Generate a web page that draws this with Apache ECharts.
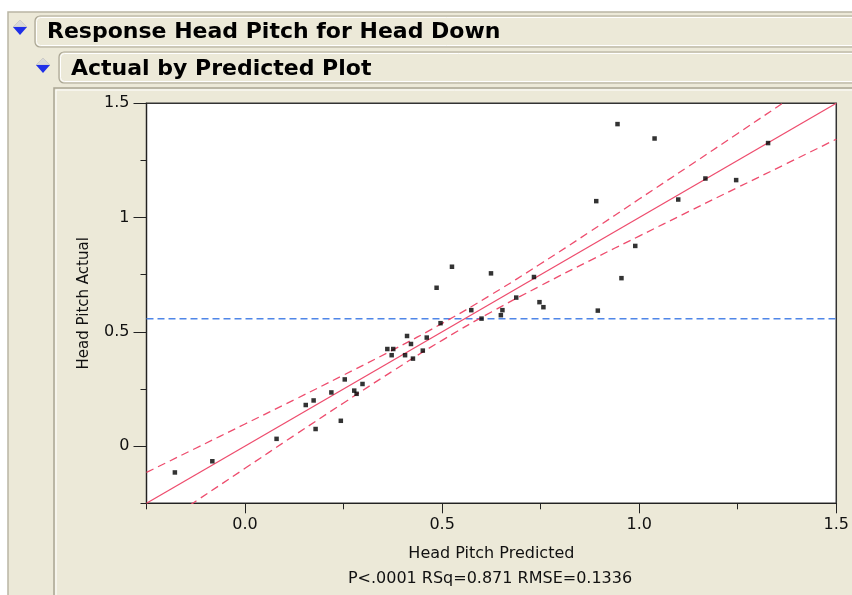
<!DOCTYPE html>
<html>
<head>
<meta charset="utf-8">
<script src="https://cdn.jsdelivr.net/npm/echarts@6/dist/echarts.min.js"></script>
<style>
html,body{margin:0;padding:0;background:#ffffff;}
#c{width:852px;height:595px;}
</style>
</head>
<body>
<div id="c"></div>
<script>
// ---- data ----
var predicted = [-0.178,-0.083,0.080,0.154,0.174,0.179,0.219,0.243,0.253,0.277,0.283,0.298,0.361,0.376,0.372,0.406,0.411,0.421,0.426,0.451,0.461,0.525,0.486,0.496,0.574,0.600,0.624,0.649,0.653,0.688,0.733,0.747,0.757,0.895,0.891,0.945,0.955,0.990,1.039,1.099,1.168,1.246,1.327];
var actual    = [-0.115,-0.066,0.032,0.180,0.200,0.075,0.235,0.111,0.292,0.243,0.229,0.272,0.425,0.425,0.398,0.398,0.482,0.447,0.383,0.418,0.475,0.785,0.693,0.538,0.595,0.558,0.756,0.573,0.595,0.650,0.740,0.630,0.608,0.593,1.072,1.409,0.735,0.876,1.346,1.079,1.171,1.164,1.326];
var fitX = [-0.25, 1.5];
var fitY = [-0.25, 1.5];
var confX     = [-0.25,-0.125,0,0.125,0.25,0.375,0.5,0.625,0.75,0.875,1,1.125,1.25,1.375,1.5];
var confUpper = [-0.115,-0.009,0.097,0.203,0.311,0.421,0.537,0.663,0.798,0.938,1.081,1.224,1.368,1.513,1.657];
var confLower = [-0.385,-0.241,-0.097,0.047,0.189,0.329,0.463,0.587,0.702,0.812,0.919,1.026,1.132,1.237,1.343];
var meanX = [-0.25, 1.5];
var meanY = [0.557, 0.557];
var majorTicks = [0, 0.5, 1, 1.5];
var minorTicks = [-0.25, 0.25, 0.75, 1.25];
var titleMain = 'Response Head Pitch for Head Down';
var titleSub = 'Actual by Predicted Plot';
var xName = 'Head Pitch Predicted';
var yName = 'Head Pitch Actual';
var statText = 'P<.0001 RSq=0.871 RMSE=0.1336';

function zip(a, b){ return a.map(function(v,i){ return [v, b[i]]; }); }

var FONT = 'DejaVu Sans';
var RED = '#EE4D6E';
var BEIGE = '#ECE9D8';
var EDGE = '#A9A593';

var chart = echarts.init(document.getElementById('c'), null, {renderer:'canvas'});

var axisCommon = {
  type: 'value', min: -0.25, max: 1.5,
  splitLine: {show:false},
  axisLine: {show:true, onZero:false, lineStyle:{color:'#222', width:1}}
};

var option = {
  animation: false,
  backgroundColor: 'transparent',
  grid: {left:146.5, top:103.3, width:690, height:400, show:true, backgroundColor:'#ffffff', borderColor:'#333', borderWidth:1.5},
  xAxis: [
    Object.assign({}, axisCommon, {
      position:'bottom',
      axisTick:{show:true, length:10, lineStyle:{color:'#222'}, customValues: majorTicks},
      axisLabel:{show:true, margin:14, fontFamily:FONT, fontSize:16, color:'#111', customValues: majorTicks,
        formatter:function(v){ return v.toFixed(1); }},
      name: xName, nameLocation:'middle', nameGap:43,
      nameTextStyle:{fontFamily:FONT, fontSize:16, color:'#111'}
    }),
    Object.assign({}, axisCommon, {
      position:'bottom',
      axisTick:{show:true, length:6, lineStyle:{color:'#222'}, customValues: minorTicks},
      axisLabel:{show:false}
    })
  ],
  yAxis: [
    Object.assign({}, axisCommon, {
      position:'left',
      axisTick:{show:true, length:13, lineStyle:{color:'#222'}, customValues: majorTicks},
      axisLabel:{show:true, margin:17, fontFamily:FONT, fontSize:16, color:'#111', customValues: majorTicks},
      name: yName, nameLocation:'middle', nameGap:55,
      nameTextStyle:{fontFamily:FONT, fontSize:15, color:'#111'}
    }),
    Object.assign({}, axisCommon, {
      position:'left',
      axisTick:{show:true, length:6, lineStyle:{color:'#222'}, customValues: minorTicks},
      axisLabel:{show:false}
    })
  ],
  series: [
    {type:'line', data: zip(meanX, meanY), symbol:'none', lineStyle:{color:'#4F86E8', width:1.5, type:[7,4]}, z:2},
    {type:'line', data: zip(confX, confUpper), smooth:true, symbol:'none', lineStyle:{color:RED, width:1.3, type:[8,5]}, z:3},
    {type:'line', data: zip(confX, confLower), smooth:true, symbol:'none', lineStyle:{color:RED, width:1.3, type:[8,5]}, z:3},
    {type:'line', data: zip(fitX, fitY), symbol:'none', lineStyle:{color:RED, width:1.3}, z:3},
    {type:'scatter', data: zip(predicted, actual), symbol:'rect', symbolSize:4.5, itemStyle:{color:'#000'}, z:5}
  ],
  graphic: [
    {type:'rect', shape:{x:8, y:12, width:900, height:600}, style:{fill:BEIGE, stroke:'#B9B5A4', lineWidth:1.5}, z:-10},
    {type:'rect', shape:{x:35, y:16, width:900, height:31, r:5}, style:{fill:BEIGE, stroke:EDGE, lineWidth:1.2}, z:-9},
    {type:'rect', shape:{x:36.5, y:17.5, width:900, height:28, r:4}, style:{fill:'none', stroke:'#ffffff', lineWidth:1}, z:-9},
    {type:'rect', shape:{x:59, y:52, width:900, height:31, r:5}, style:{fill:BEIGE, stroke:EDGE, lineWidth:1.2}, z:-9},
    {type:'rect', shape:{x:60.5, y:53.5, width:900, height:28, r:4}, style:{fill:'none', stroke:'#ffffff', lineWidth:1}, z:-9},
    {type:'rect', shape:{x:54, y:88, width:900, height:600}, style:{fill:BEIGE, stroke:EDGE, lineWidth:1.5}, z:-9},
    {type:'rect', shape:{x:56, y:90, width:900, height:600}, style:{fill:'none', stroke:'#ffffff', lineWidth:1}, z:-9},
    {type:'polygon', shape:{points:[[13,27],[20,20],[27,27]]}, style:{fill:'#D8D8D8', stroke:'#B8B8B8', lineWidth:0.5}, z:-8},
    {type:'polygon', shape:{points:[[13,27],[27,27],[20,35]]}, style:{fill:'#1F2FE8'}, z:-8},
    {type:'polygon', shape:{points:[[36,65],[43,58],[50,65]]}, style:{fill:'#D8D8D8', stroke:'#B8B8B8', lineWidth:0.5}, z:-8},
    {type:'polygon', shape:{points:[[36,65],[50,65],[43,73]]}, style:{fill:'#1F2FE8'}, z:-8},
    {type:'text', x:47, y:32, style:{text:titleMain, fontFamily:FONT, fontWeight:'bold', fontSize:22, fill:'#000', textVerticalAlign:'middle', verticalAlign:'middle'}, z:-7},
    {type:'text', x:71, y:69, style:{text:titleSub, fontFamily:FONT, fontWeight:'bold', fontSize:22, fill:'#000', textVerticalAlign:'middle', verticalAlign:'middle'}, z:-7},
    {type:'text', x:490, y:579, style:{text:statText, fontFamily:FONT, fontSize:16, fill:'#111', align:'center', textAlign:'center', verticalAlign:'middle', textVerticalAlign:'middle'}, z:1}
  ]
};
chart.setOption(option);
</script>
</body>
</html>
